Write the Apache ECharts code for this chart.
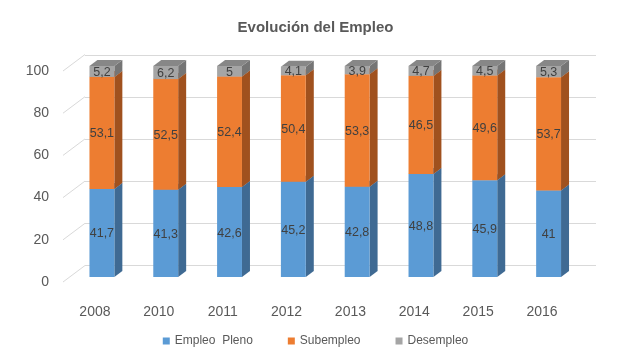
<!DOCTYPE html>
<html>
<head>
<meta charset="utf-8">
<script src="https://cdn.jsdelivr.net/npm/echarts@6/dist/echarts.min.js"></script>
<style>html,body{margin:0;padding:0;background:#fff;}#c{width:631px;height:364px;}</style>
</head>
<body>
<div id="c"></div>
<script>
const title = 'Evolución del Empleo';
const categories = ['2008', '2010', '2011', '2012', '2013', '2014', '2015', '2016'];
const seriesNames = ['Empleo  Pleno', 'Subempleo', 'Desempleo'];
const empleoPleno = [41.7, 41.3, 42.6, 45.2, 42.8, 48.8, 45.9, 41];
const subempleo = [53.1, 52.5, 52.4, 50.4, 53.3, 46.5, 49.6, 53.7];
const desempleo = [5.2, 6.2, 5, 4.1, 3.9, 4.7, 4.5, 5.3];
const yTicks = [0, 20, 40, 60, 80, 100];

const FONT = '"Liberation Sans", Arial, sans-serif';
const DX = 8, DY = 6;          // bar depth
const WX = 22, WY = 16.5;      // side-wall depth
const palette = [
  { front: '#5B9BD5', side: '#3F6A93', top: '#4A83B8' },
  { front: '#ED7D31', side: '#A0511E', top: '#C8652A' },
  { front: '#A5A5A5', side: '#757575', top: '#878787' }
];

function fmt(v) { return String(v).replace('.', ','); }

const values = [empleoPleno, subempleo, desempleo];
const bases = [];
let acc = categories.map(() => 0);
values.forEach((arr) => {
  bases.push(acc.slice());
  acc = acc.map((a, i) => a + arr[i]);
});

function barSeries(k) {
  const col = palette[k];
  return {
    name: seriesNames[k],
    type: 'custom',
    xAxisIndex: 0, yAxisIndex: 0,
    itemStyle: { color: col.front },
    silent: true,
    data: values[k].map((v, i) => [i, bases[k][i], bases[k][i] + v, v]),
    renderItem: function (params, api) {
      const i = api.value(0), b = api.value(1), t = api.value(2), v = api.value(3);
      const pb = api.coord([i, b]);
      const pt = api.coord([i, t]);
      const bw = api.size([1, 0])[0] * 0.39;
      const x0 = pb[0] - bw / 2, x1 = pb[0] + bw / 2, yb = pb[1], yt = pt[1];
      return {
        type: 'group',
        children: [
          { type: 'polygon', shape: { points: [[x1, yb], [x1 + DX, yb - DY], [x1 + DX, yt - DY], [x1, yt]] }, style: { fill: col.side } },
          { type: 'polygon', shape: { points: [[x0, yt], [x1, yt], [x1 + DX, yt - DY], [x0 + DX, yt - DY]] }, style: { fill: col.top } },
          { type: 'rect', shape: { x: x0, y: yt, width: bw, height: yb - yt }, style: { fill: col.front } },
          { type: 'text', x: pb[0], y: (yb + yt) / 2 + 1, style: { text: fmt(v), align: 'center', verticalAlign: 'middle', fill: '#404040', font: '12.5px ' + FONT } }
        ]
      };
    }
  };
}

const chart = echarts.init(document.getElementById('c'), null, { renderer: 'canvas' });
const option = {
  animation: false,
  backgroundColor: '#ffffff',
  title: {
    text: title, left: 'center', top: 15,
    textStyle: { fontFamily: FONT, fontSize: 15, fontWeight: 'bold', color: '#595959' }
  },
  legend: {
    data: seriesNames, bottom: 12, left: 'center',
    icon: 'rect', itemWidth: 7, itemHeight: 7, itemGap: 35,
    textStyle: { fontFamily: FONT, fontSize: 12, color: '#595959' }
  },
  grid: [
    { left: 70, right: 50.5, top: 66, bottom: 87 },     // bar fronts
    { left: 85, right: 35, top: 55, bottom: 98.5 },     // back wall
    { left: 63, right: 57, top: 71, bottom: 82 }        // front plane (labels)
  ],
  xAxis: [
    { type: 'category', gridIndex: 0, data: categories, show: false },
    { type: 'category', gridIndex: 1, data: categories, show: false },
    { type: 'category', gridIndex: 2, data: categories,
      axisLine: { show: false }, axisTick: { show: false },
      axisLabel: { margin: 23, fontFamily: FONT, fontSize: 14, color: '#595959' } }
  ],
  yAxis: [
    { type: 'value', gridIndex: 0, min: 0, max: 100, interval: 20, show: false },
    { type: 'value', gridIndex: 1, min: 0, max: 100, interval: 20,
      axisLine: { show: false }, axisTick: { show: false }, axisLabel: { show: false },
      splitLine: { show: true, lineStyle: { color: '#d9d9d9', width: 1 } } },
    { type: 'value', gridIndex: 2, min: 0, max: 100, interval: 20,
      axisLine: { show: false }, axisTick: { show: false }, splitLine: { show: false },
      axisLabel: { margin: 14, fontFamily: FONT, fontSize: 14, color: '#595959' } }
  ],
  series: [
    {
      type: 'custom', name: 'sidewall', xAxisIndex: 2, yAxisIndex: 2, silent: true, z: 1,
      data: yTicks.map((v) => [0, v]),
      renderItem: function (params, api) {
        const p = api.coord([api.value(0), api.value(1)]);
        const left = p[0] - api.size([1, 0])[0] / 2;
        return { type: 'line', shape: { x1: left, y1: p[1], x2: left + WX, y2: p[1] - WY }, style: { stroke: '#d9d9d9', lineWidth: 1 } };
      }
    },
    barSeries(0), barSeries(1), barSeries(2)
  ]
};
chart.setOption(option);
</script>
</body>
</html>
